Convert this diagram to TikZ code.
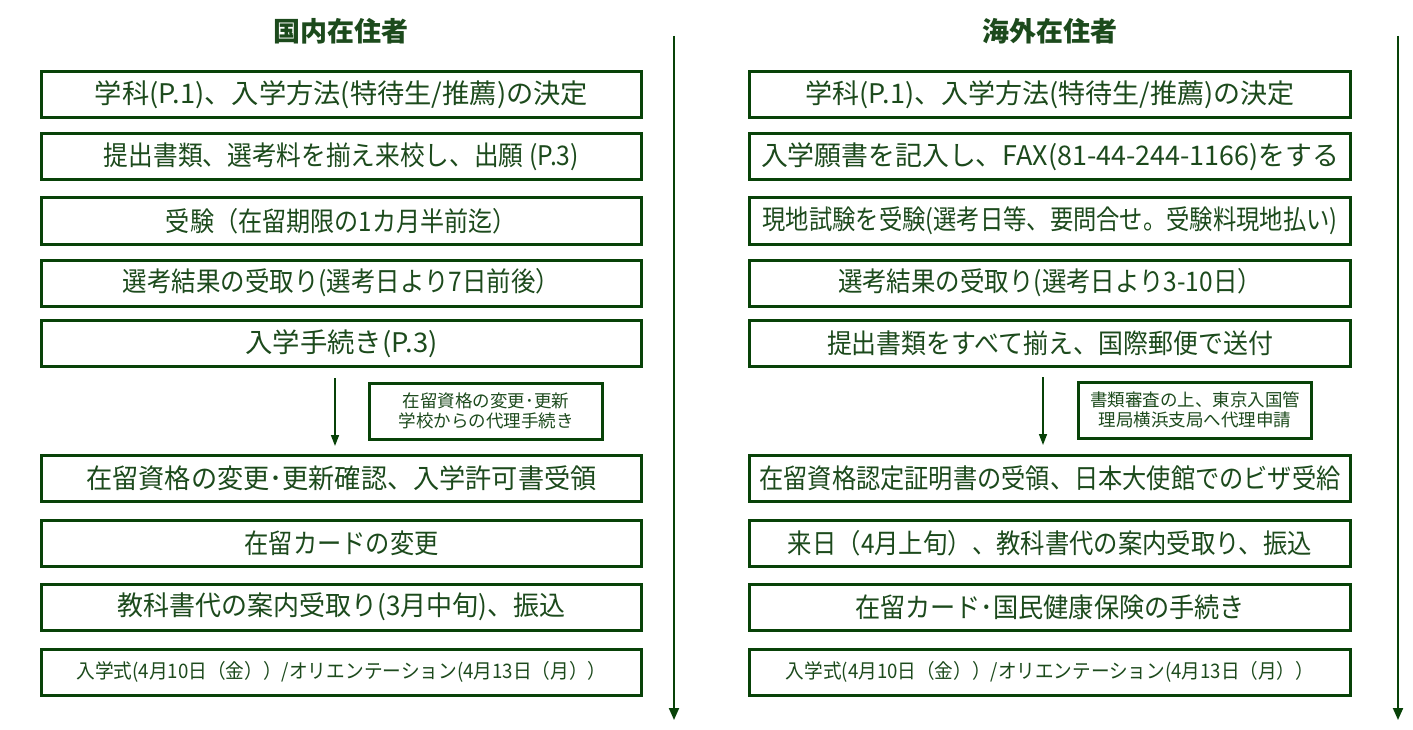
\documentclass[tikz,border=0pt]{standalone}
\usepackage{fontspec}
\usepackage{graphicx}
\newfontfamily\jp{Noto Sans CJK JP}
\usetikzlibrary{arrows.meta,calc}
\definecolor{gframe}{RGB}{8,66,8}
\definecolor{gtext}{RGB}{28,74,28}
\newcommand{\fw}[2]{\resizebox{#1pt}{\height}{#2}}
\begin{document}
\begin{tikzpicture}[x=1pt,y=-1pt,
 stepbox/.style={draw=gframe,line width=3pt,minimum height=46pt,inner sep=0pt,text=gtext,font=\jp\fontsize{27}{30}\selectfont},
 lbox/.style={stepbox,minimum width=600pt},
 rbox/.style={stepbox,minimum width=601pt},
 smallbox/.style={stepbox,minimum width=233pt,minimum height=56pt,align=center,font=\jp\fontsize{17.5}{20}\selectfont},
 lastrow/.style={font=\jp\fontsize{20}{22}\selectfont},
 title/.style={text=gtext,font=\jp\bfseries\fontsize{27}{30}\selectfont},
 flow/.style={draw=gframe,line width=2pt,-{Triangle[length=12pt,width=10pt]}},
 short/.style={draw=gframe,line width=1.6pt,-{Triangle[length=11pt,width=8pt]}}
]
\useasboundingbox[fill=white] (0,0) rectangle (1413,730);

% titles
\node[title] (tl) at (341,31) {国内在住者};
\node[title] (tr) at (1050,31) {海外在住者};

% left column
\node[lbox] (L1) at (341.5,94.5) {\fw{493}{学科(P.1)、入学方法(特待生/推薦)の決定}};
\node[lbox] (L2) at (341.5,157) {\fw{475}{提出書類、選考料を揃え来校し、出願 (P.3)}};
\node[lbox] (L3) at (341.5,221) {\fw{351}{受験（在留期限の1カ月半前迄）}};
\node[lbox] (L4) at (341.5,283) {\fw{437}{選考結果の受取り(選考日より7日前後）}};
\node[lbox] (L5) at (341.5,343.5) {\fw{192}{入学手続き(P.3)}};
\node[smallbox] (LS) at (486,411) {在留資格の変更･更新\\学校からの代理手続き};
\node[lbox] (L6) at (341.5,478.5) {\fw{510}{在留資格の変更･更新確認、入学許可書受領}};
\node[lbox] (L7) at (341.5,543.5) {\fw{194}{在留カードの変更}};
\node[lbox] (L8) at (341.5,607) {\fw{448}{教科書代の案内受取り(3月中旬)、振込}};
\node[lbox,lastrow] (L9) at (341.5,672) {\fw{530}{入学式(4月10日（金））/オリエンテーション(4月13日（月））}};

% right column
\node[rbox] (R1) at (1050,94.5) {\fw{489}{学科(P.1)、入学方法(特待生/推薦)の決定}};
\node[rbox] (R2) at (1050,157) {\fw{578}{入学願書を記入し、FAX(81-44-244-1166)をする}};
\node[rbox] (R3) at (1050,221) {\fw{575}{現地試験を受験(選考日等、要問合せ。受験料現地払い)}};
\node[rbox] (R4) at (1050,283) {\fw{424}{選考結果の受取り(選考日より3-10日）}};
\node[rbox] (R5) at (1050,343.5) {\fw{446}{提出書類をすべて揃え、国際郵便で送付}};
\node[smallbox] (RS) at (1195,410) {書類審査の上、東京入国管\\理局横浜支局へ代理申請};
\node[rbox] (R6) at (1050,478.5) {\fw{581}{在留資格認定証明書の受領、日本大使館でのビザ受給}};
\node[rbox] (R7) at (1050,543.5) {\fw{524}{来日（4月上旬）、教科書代の案内受取り、振込}};
\node[rbox] (R8) at (1050,607) {\fw{390}{在留カード･国民健康保険の手続き}};
\node[rbox,lastrow] (R9) at (1050,672) {\fw{528}{入学式(4月10日（金））/オリエンテーション(4月13日（月））}};

% short arrows
\draw[short] ($(L5.south)+(-6.5,10)$) -- ($(L6.north)+(-6.5,-8)$);
\draw[short] ($(R5.south)+(-7,9)$) -- ($(R6.north)+(-7,-9)$);

% long timeline arrows
\coordinate (ltop) at (674,36);
\coordinate (lbot) at (674,720);
\coordinate (rtop) at (1398,36);
\coordinate (rbot) at (1398,720);
\draw[flow] (ltop) -- (lbot);
\draw[flow] (rtop) -- (rbot);
\end{tikzpicture}
\end{document}
